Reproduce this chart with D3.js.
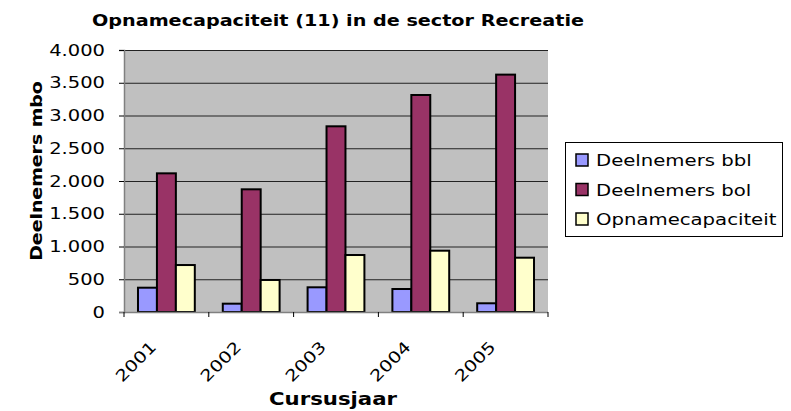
<!DOCTYPE html>
<html>
<head>
<meta charset="utf-8">
<script src="https://cdn.jsdelivr.net/npm/d3@7"></script>
<style>
  body { margin: 0; background: #fff; }
  text { font-family: "DejaVu Sans", Verdana, sans-serif; fill: #000; }
</style>
</head>
<body>
<svg id="chart" width="791" height="411"></svg>
<script>
const years = ['2001', '2002', '2003', '2004', '2005'];
const seriesNames = ['Deelnemers bbl', 'Deelnemers bol', 'Opnamecapaciteit'];
const bbl = [371, 127, 377, 351, 133];
const bol = [2117, 1873, 2835, 3313, 3624];
const capaciteit = [717, 489, 870, 936, 829];
const yTicks = [0, 500, 1000, 1500, 2000, 2500, 3000, 3500, 4000];
const colors = ['#9999ff', '#993366', '#ffffcc'];

const table = years.map((y, i) => ({ year: y, values: [bbl[i], bol[i], capaciteit[i]] }));

const svg = d3.select('#chart');
const plot = { left: 124, top: 50, right: 548, bottom: 312 };
const stretch = 1.22; // the original text is a little wider than DejaVu

const x = d3.scaleBand().domain(years).range([plot.left, plot.right]).paddingInner(0.33).paddingOuter(0.165);
const xs = d3.scaleBand().domain([0, 1, 2]).range([0, x.bandwidth()]);
const y = d3.scaleLinear().domain([0, 4000]).range([plot.bottom, plot.top]);
const nl = v => d3.format(',')(v).replace(/,/g, '.');

// helper: stretched text
function label(parent, tx, ty, rot, txt, size, opts = {}) {
  return parent.append('text')
    .attr('transform', `translate(${tx},${ty}) rotate(${rot}) scale(${opts.sx || stretch},1)`)
    .attr('text-anchor', opts.anchor || 'start')
    .attr('font-size', size)
    .attr('font-weight', opts.bold ? 'bold' : null)
    .text(txt);
}

// plot area
svg.append('rect')
  .attr('x', plot.left).attr('y', plot.top)
  .attr('width', plot.right - plot.left).attr('height', plot.bottom - plot.top)
  .attr('fill', '#c0c0c0');

svg.append('g').selectAll('line').data(yTicks.slice(1)).enter().append('line')
  .attr('x1', plot.left).attr('x2', plot.right)
  .attr('y1', d => y(d) + 0.5).attr('y2', d => y(d) + 0.5)
  .attr('stroke', '#222').attr('stroke-width', 1);

// bars
const groups = svg.append('g').selectAll('g').data(table).enter().append('g')
  .attr('transform', d => `translate(${x(d.year)},0)`);
groups.selectAll('rect').data(d => d.values).enter().append('rect')
  .attr('x', (d, i) => xs(i))
  .attr('y', d => y(d))
  .attr('width', xs.bandwidth())
  .attr('height', d => y(0) - y(d))
  .attr('fill', (d, i) => colors[i])
  .attr('stroke', '#000').attr('stroke-width', 2);

// y axis
const yAxis = svg.append('g')
  .attr('transform', `translate(${plot.left},0)`)
  .call(d3.axisLeft(y).tickValues(yTicks).tickSize(5).tickFormat(nl));
yAxis.select('.domain').attr('stroke', '#808080').attr('stroke-width', 1.5);
yAxis.selectAll('.tick line').attr('stroke', '#000');
yAxis.selectAll('.tick text')
  .attr('font-size', 16).attr('fill', '#000')
  .attr('font-family', '"DejaVu Sans", Verdana, sans-serif')
  .attr('x', 0)
  .attr('transform', `translate(-19,0) scale(${stretch},1)`);

// x axis
const xEdges = d3.range(years.length + 1).map(i => plot.left + i * (plot.right - plot.left) / years.length);
const xAxis = svg.append('g');
xAxis.append('line')
  .attr('x1', plot.left - 5).attr('x2', plot.right)
  .attr('y1', plot.bottom + 0.5).attr('y2', plot.bottom + 0.5)
  .attr('stroke', '#808080').attr('stroke-width', 1.5);
xAxis.selectAll('.xt').data(xEdges).enter().append('line')
  .attr('x1', d => d).attr('x2', d => d)
  .attr('y1', plot.bottom).attr('y2', plot.bottom + 5)
  .attr('stroke', '#000');
years.forEach(d => {
  label(xAxis, x(d) + x.bandwidth() / 2 - 9, plot.bottom + 36, -45, d, 16, { anchor: 'end' });
});

// titles
label(svg, 338, 26, 0, 'Opnamecapaciteit (11) in de sector Recreatie', 16, { anchor: 'middle', bold: true, sx: 1.2 });
label(svg, 333, 405, 0, 'Cursusjaar', 17, { anchor: 'middle', bold: true, sx: 1.25 });
label(svg, 42, 171, -90, 'Deelnemers mbo', 16, { anchor: 'middle', bold: true, sx: 1.18 });

// legend
const legend = svg.append('g').attr('transform', 'translate(565,142)');
legend.append('rect').attr('x', 0.5).attr('y', 0.5).attr('width', 217).attr('height', 94)
  .attr('fill', '#fff').attr('stroke', '#000');
const li = legend.selectAll('.item').data(seriesNames).enter().append('g')
  .attr('transform', (d, i) => `translate(11,${24 + i * 29.5})`);
li.append('rect').attr('x', 0).attr('y', -12).attr('width', 12).attr('height', 12)
  .attr('fill', (d, i) => colors[i]).attr('stroke', '#000').attr('stroke-width', 1.5);
li.each(function (d) { label(d3.select(this), 20, 0, 0, d, 16, { sx: 1.23 }); });
</script>
</body>
</html>
